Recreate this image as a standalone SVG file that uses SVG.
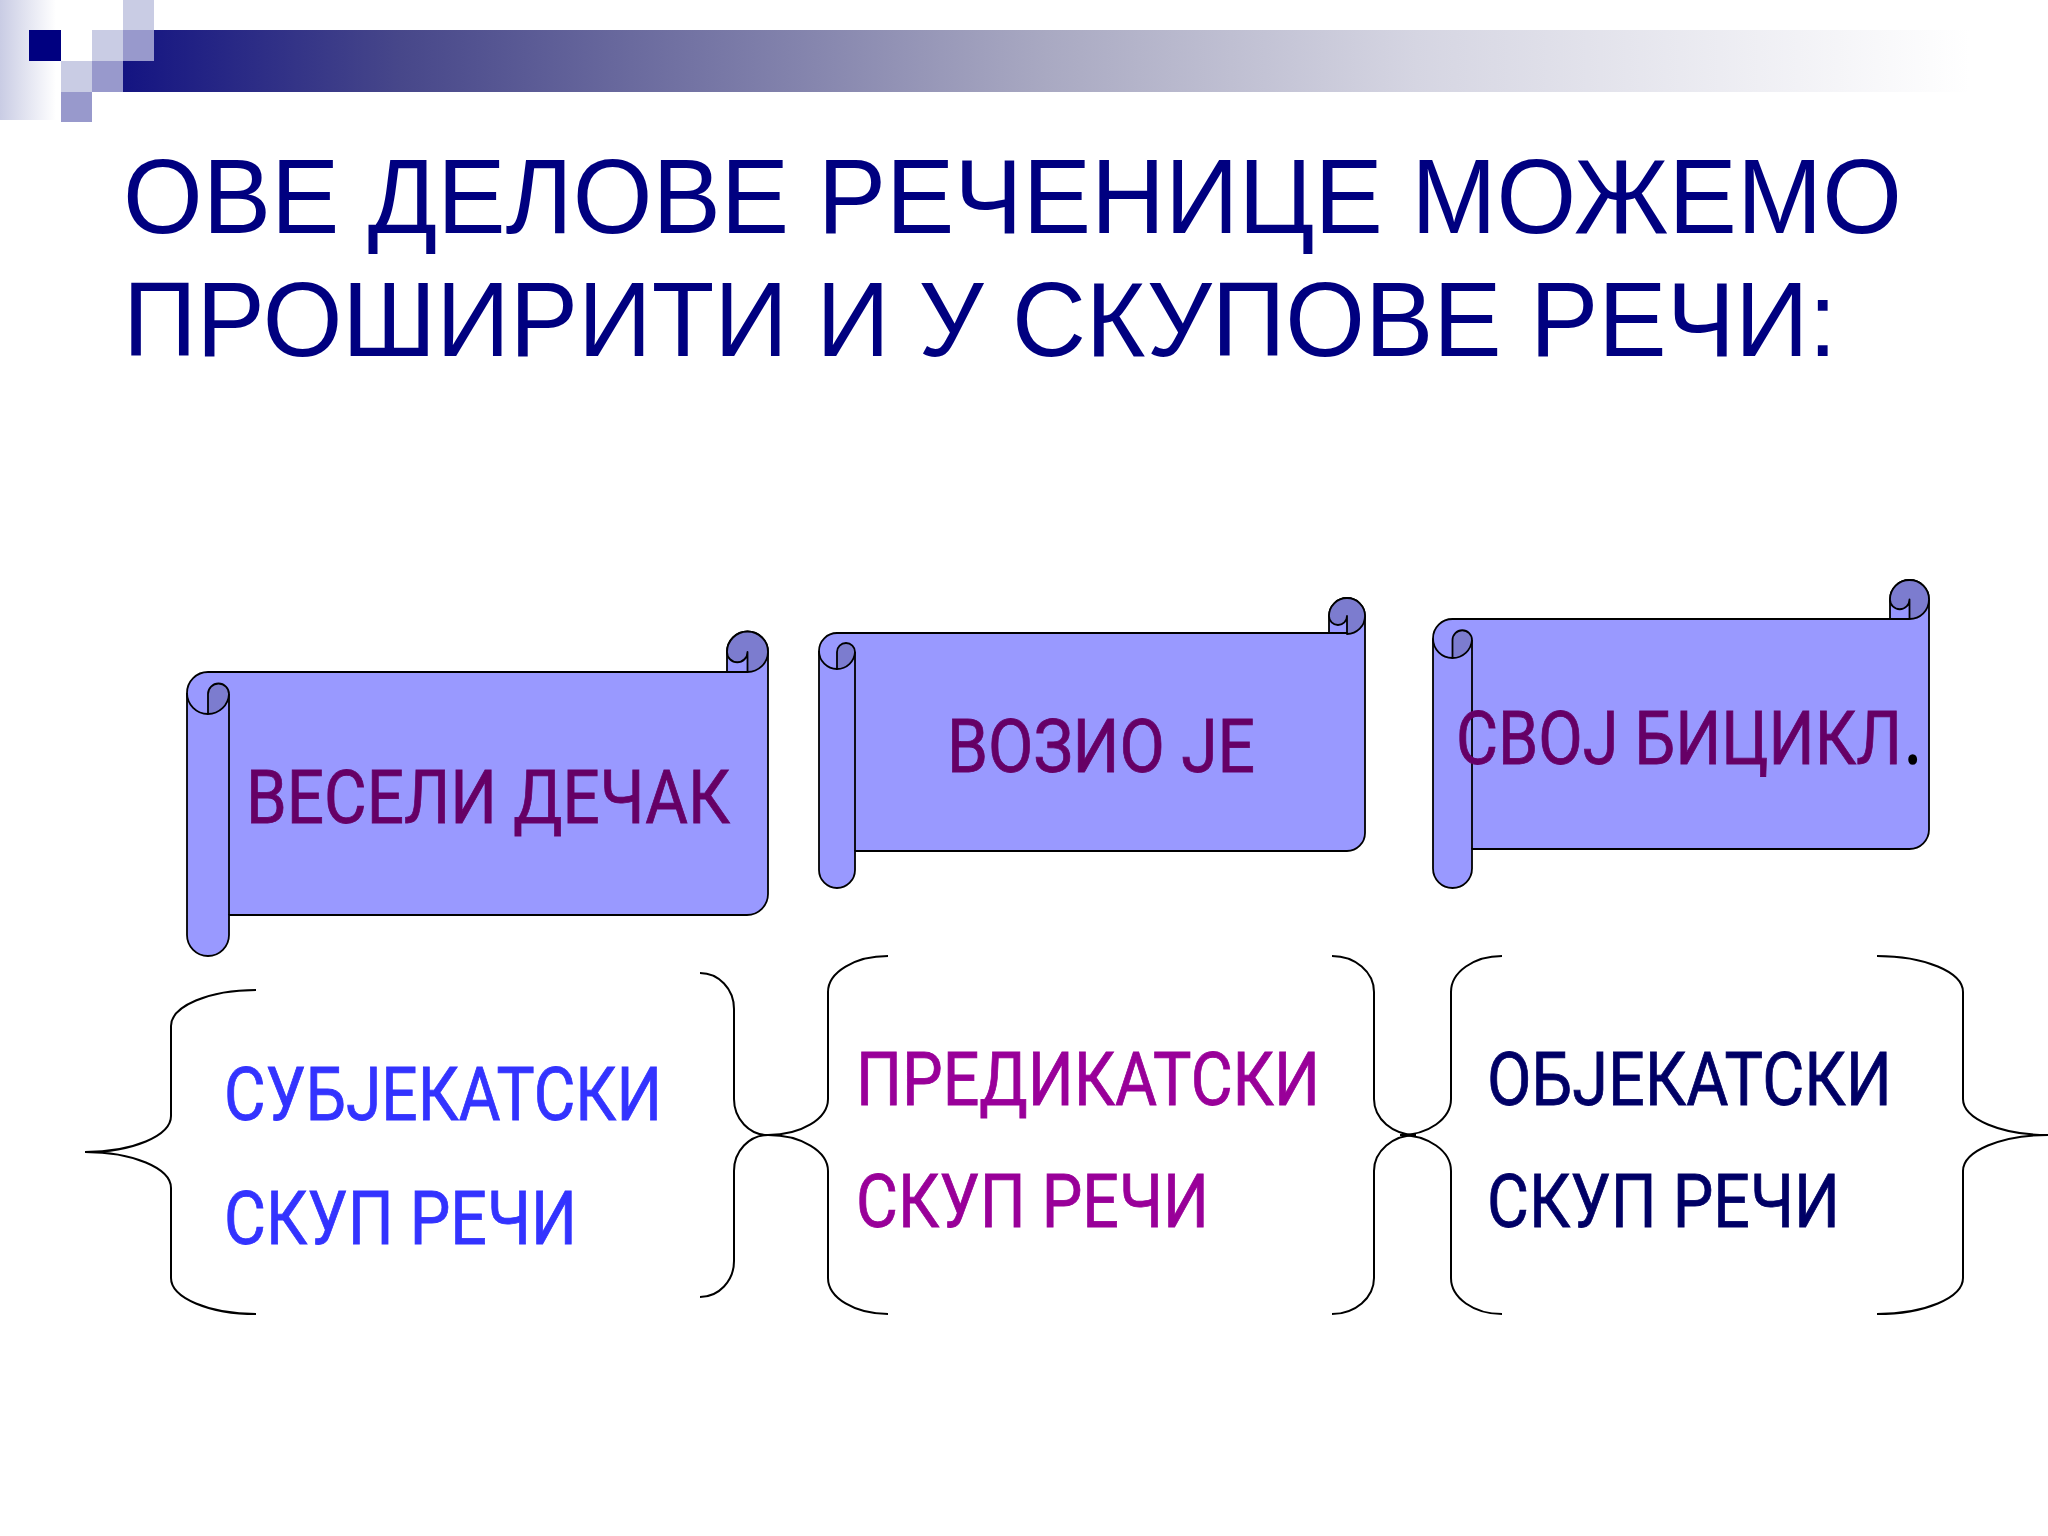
<svg xmlns="http://www.w3.org/2000/svg" width="2048" height="1536" viewBox="0 0 2048 1536">
<style>
.scroll{fill:#9999FF;stroke:#000;stroke-width:1.8;stroke-linejoin:round}
.curl{fill:#7C7CCF;stroke:#000;stroke-width:1.8;stroke-linejoin:round}
.line{fill:none;stroke:#000;stroke-width:1.8}
.brace{fill:none;stroke:#000;stroke-width:2}
.title{font-family:"Liberation Sans",Arial,sans-serif;font-size:106.5px;fill:#000080}
.label{font-family:Roboto,"DejaVu Sans",sans-serif;font-size:74px;stroke-width:0.8}
.p{fill:#660066;stroke:#660066}.b{fill:#3333FF;stroke:#3333FF}.m{fill:#990099;stroke:#990099}.n{fill:#000066;stroke:#000066}
.dot{fill:#000;stroke:#000;stroke-width:2.5px}
</style>
<defs>
<linearGradient id="bar" gradientUnits="userSpaceOnUse" x1="123" y1="0" x2="1970" y2="0">
<stop offset="0" stop-color="#141482"/><stop offset="0.15" stop-color="#47478A"/><stop offset="0.5" stop-color="#A9A9C2"/><stop offset="0.7" stop-color="#D5D5E2"/><stop offset="1" stop-color="#FFFFFF"/>
</linearGradient>
<linearGradient id="side" x1="0" y1="0" x2="1" y2="0">
<stop offset="0" stop-color="#C9CCE4"/><stop offset="1" stop-color="#FFFFFF"/>
</linearGradient>
</defs>
<rect width="2048" height="1536" fill="#FFFFFF"/>
<g id="header">
<rect x="0" y="0" width="56" height="120" fill="url(#side)"/>
<rect x="123" y="61" width="1850" height="31" fill="url(#bar)"/>
<rect x="154" y="30" width="1819" height="31" fill="url(#bar)"/>
<rect x="29" y="30" width="32" height="31" fill="#000080"/>
<rect x="92" y="30" width="31" height="31" fill="#C9CCE4"/>
<rect x="123" y="0" width="31" height="30" fill="#C9CCE4"/>
<rect x="123" y="30" width="31" height="31" fill="#9899CC"/>
<rect x="61" y="61" width="31" height="31" fill="#C9CCE4"/>
<rect x="92" y="61" width="31" height="31" fill="#9899CC"/>
<rect x="61" y="92" width="31" height="30" fill="#9899CC"/>
</g>
<g id="title">
<text class="title" x="123" y="233" textLength="1779" lengthAdjust="spacingAndGlyphs">ОВЕ ДЕЛОВЕ РЕЧЕНИЦЕ МОЖЕМО</text>
<text class="title" x="123" y="356" textLength="1714" lengthAdjust="spacingAndGlyphs">ПРОШИРИТИ И У СКУПОВЕ РЕЧИ:</text>
</g>
<g id="scroll-1">
<path class="scroll" d="M187,693 A21,21 0 0 1 208,672 H727 V652 A20.5,20.5 0 0 1 768,652 V894 A21,21 0 0 1 747,915 H229 V935 A21,21 0 0 1 187,935 Z"/>
<path class="curl" d="M208,714 V694 A10.5,10.5 0 0 1 229,694 A21,21 0 0 1 208,714 Z"/>
<path class="line" d="M187,693 A21,21 0 0 0 208,714 M229,694 V915 M727,672 H748"/>
<path class="curl" d="M727,652 A20.5,20.5 0 0 1 768,652 A20.5,20.5 0 0 1 747.5,672 V652 A10.25,10.25 0 0 1 727,652 Z"/>
<text class="label p" x="246" y="823" textLength="484" lengthAdjust="spacingAndGlyphs">ВЕСЕЛИ ДЕЧАК</text>
</g>
<g id="scroll-2">
<path class="scroll" d="M819,651 A18,18 0 0 1 837,633 H1329 V616 A18,18 0 0 1 1365,616 V833 A18,18 0 0 1 1347,851 H855 V870 A18,18 0 0 1 819,870 Z"/>
<path class="curl" d="M837,669 V652 A9,9 0 0 1 855,652 A18,18 0 0 1 837,669 Z"/>
<path class="line" d="M819,651 A18,18 0 0 0 837,669 M855,652 V851 M1329,633 H1347"/>
<path class="curl" d="M1329,616 A18,18 0 0 1 1365,616 A18,18 0 0 1 1347,634 V616 A9,9 0 0 1 1329,616 Z"/>
<text class="label p" x="947" y="772" textLength="308" lengthAdjust="spacingAndGlyphs">ВОЗИО ЈЕ</text>
</g>
<g id="scroll-3">
<path class="scroll" d="M1433,638.5 A19.5,19.5 0 0 1 1452.5,619 H1890 V599.5 A19.5,19.5 0 0 1 1929,599.5 V829.5 A19.5,19.5 0 0 1 1909.5,849 H1472 V868.5 A19.5,19.5 0 0 1 1433,868.5 Z"/>
<path class="curl" d="M1452.5,658 V640 A9.75,9.75 0 0 1 1472,640 A19.5,19.5 0 0 1 1452.5,658 Z"/>
<path class="line" d="M1433,638.5 A19.5,19.5 0 0 0 1452.5,658 M1472,640 V849 M1890,619 H1909.5"/>
<path class="curl" d="M1890,599.5 A19.5,19.5 0 0 1 1929,599.5 A19.5,19.5 0 0 1 1909.5,619 V599.5 A9.75,9.75 0 0 1 1890,599.5 Z"/>
<text class="label p" x="1456" y="764" textLength="446" lengthAdjust="spacingAndGlyphs">СВОЈ БИЦИКЛ</text>
<text class="label dot" x="1905" y="763" textLength="16" lengthAdjust="spacingAndGlyphs">.</text>
</g>
<g id="subject-group">
<path class="brace" d="M256,990 A85,36 0 0 0 171,1026 V1116 A86,36 0 0 1 85,1152 A86,36 0 0 1 171,1188 V1278 A85,36 0 0 0 256,1314"/>
<path class="brace" d="M700,973 A34,36 0 0 1 734,1009 V1099 A34,36 0 0 0 768,1135 A34,36 0 0 0 734,1171 V1261 A34,36 0 0 1 700,1297"/>
<text class="label b" x="224" y="1120" textLength="438" lengthAdjust="spacingAndGlyphs">СУБЈЕКАТСКИ</text>
<text class="label b" x="224" y="1244" textLength="353" lengthAdjust="spacingAndGlyphs">СКУП РЕЧИ</text>
</g>
<g id="predicate-group">
<path class="brace" d="M888,956 A60,36 0 0 0 828,992 V1099 A60,36 0 0 1 768,1135 A60,36 0 0 1 828,1171 V1278 A60,36 0 0 0 888,1314"/>
<path class="brace" d="M1332,956 A42,36 0 0 1 1374,992 V1099 A42,36 0 0 0 1416,1135 A42,36 0 0 0 1374,1171 V1278 A42,36 0 0 1 1332,1314"/>
<text class="label m" x="856" y="1105" textLength="464" lengthAdjust="spacingAndGlyphs">ПРЕДИКАТСКИ</text>
<text class="label m" x="856" y="1227" textLength="353" lengthAdjust="spacingAndGlyphs">СКУП РЕЧИ</text>
</g>
<g id="object-group">
<path class="brace" d="M1502,956 A51,36 0 0 0 1451,992 V1099 A51,36 0 0 1 1400,1135 A51,36 0 0 1 1451,1171 V1278 A51,36 0 0 0 1502,1314"/>
<path class="brace" d="M1877,956 A86,36 0 0 1 1963,992 V1099 A85,36 0 0 0 2048,1135 A85,36 0 0 0 1963,1171 V1278 A86,36 0 0 1 1877,1314"/>
<text class="label n" x="1487" y="1105" textLength="405" lengthAdjust="spacingAndGlyphs">ОБЈЕКАТСКИ</text>
<text class="label n" x="1487" y="1227" textLength="353" lengthAdjust="spacingAndGlyphs">СКУП РЕЧИ</text>
</g>
</svg>
